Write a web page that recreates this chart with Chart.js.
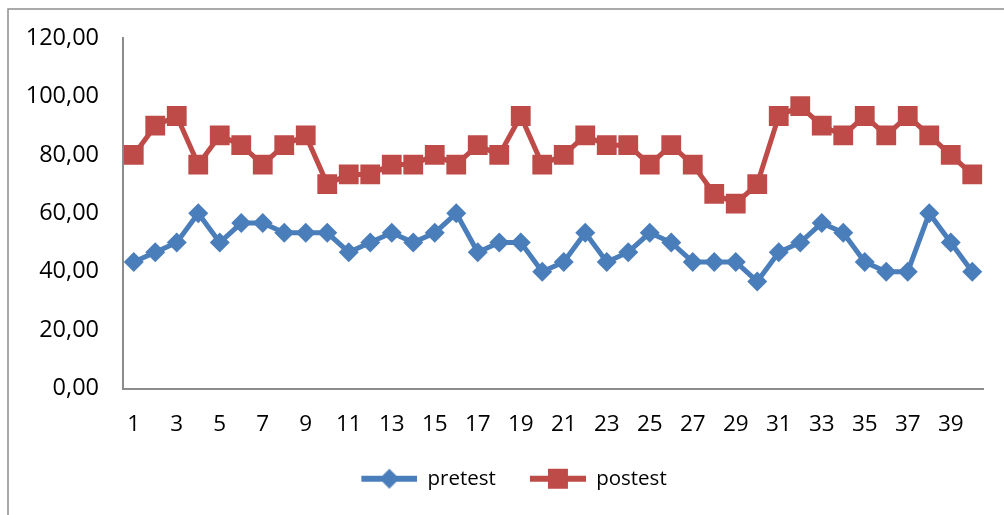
<!DOCTYPE html>
<html>
<head>
<meta charset="utf-8">
<script src="https://cdn.jsdelivr.net/npm/chart.js@4"></script>
<style>
  body { margin: 0; background: #fff; }
  canvas { display: block; }
</style>
</head>
<body>
<canvas id="chart" width="1004" height="515"></canvas>
<script>
// data
let categories = [];
for (let i = 1; i <= 40; i++) categories.push(String(i));

let pretest = [43.33, 46.67, 50, 60, 50, 56.67, 56.67, 53.33, 53.33, 53.33,
               46.67, 50, 53.33, 50, 53.33, 60, 46.67, 50, 50, 40,
               43.33, 53.33, 43.33, 46.67, 53.33, 50, 43.33, 43.33, 43.33, 36.67,
               46.67, 50, 56.67, 53.33, 43.33, 40, 40, 60, 50, 40];

let postest = [80, 90, 93.33, 76.67, 86.67, 83.33, 76.67, 83.33, 86.67, 70,
               73.33, 73.33, 76.67, 76.67, 80, 76.67, 83.33, 80, 93.33, 76.67,
               80, 86.67, 83.33, 83.33, 76.67, 83.33, 76.67, 66.67, 63.33, 70,
               93.33, 96.67, 90, 86.67, 93.33, 86.67, 93.33, 86.67, 80, 73.33];

let yTicks = [0, 20, 40, 60, 80, 100, 120];

let blue = "#4a7ebb";
let red = "#be4b48";
let axisGray = "#8c8c8c";
let fontName = "'Open Sans', sans-serif";

//legend symbol: a line with the marker in the middle
function legendIcon(color, shape){
    let c = document.createElement("canvas");
    c.width = 80;
    c.height = 24;
    let g = c.getContext("2d");
    g.strokeStyle = color;
    g.lineWidth = 6;
    g.beginPath();
    g.moveTo(24, 12);
    g.lineTo(80, 12);
    g.stroke();
    g.fillStyle = color;
    g.beginPath();
    if (shape == "diamond"){
        g.moveTo(52, 2);
        g.lineTo(62, 12);
        g.lineTo(52, 22);
        g.lineTo(42, 12);
    } else {
        g.rect(42, 2, 20, 20);
    }
    g.fill();
    return c;
}

//outer chart frame (only top and left edges are inside the picture)
let framePlugin = {
    id: "frame",
    beforeDraw(chart){
        let ctx = chart.ctx;
        ctx.save();
        ctx.strokeStyle = "#8e8e8e";
        ctx.lineWidth = 1.5;
        ctx.beginPath();
        ctx.moveTo(8, 520);
        ctx.lineTo(8, 9);
        ctx.lineTo(1010, 9);
        ctx.stroke();
        ctx.restore();
    }
};

let chart = new Chart(document.getElementById("chart").getContext("2d"), {
    type: "line",
    data: {
        labels: categories,
        datasets: [{
            label: "pretest",
            data: pretest,
            borderColor: blue,
            backgroundColor: blue,
            borderWidth: 5,
            pointStyle: "rectRot",
            pointRadius: 10,
            pointHoverRadius: 10,
            pointBorderWidth: 0,
            tension: 0
        }, {
            label: "postest",
            data: postest,
            borderColor: red,
            backgroundColor: red,
            borderWidth: 5,
            pointStyle: "rect",
            pointRadius: 14,
            pointHoverRadius: 14,
            pointBorderWidth: 0,
            tension: 0
        }]
    },
    options: {
        responsive: false,
        animation: false,
        layout: {
            padding: {left: 21, right: 21, top: 38, bottom: 16}
        },
        plugins: {
            tooltip: {enabled: false},
            legend: {
                position: "bottom",
                labels: {
                    usePointStyle: true,
                    pointStyleWidth: 80,
                    padding: 10,
                    color: "#000",
                    font: {family: fontName, size: 20.5},
                    generateLabels(ch){
                        return ch.data.datasets.map((ds, i) => ({
                            text: ds.label,
                            pointStyle: legendIcon(ds.borderColor, i == 0 ? "diamond" : "square"),
                            fillStyle: ds.borderColor,
                            strokeStyle: ds.borderColor,
                            lineWidth: 0,
                            fontColor: "#000",
                            datasetIndex: i
                        }));
                    }
                }
            }
        },
        scales: {
            x: {
                offset: true,
                grid: {display: false, drawTicks: false, offset: true},
                border: {display: true, color: axisGray, width: 2},
                afterFit(scale){ scale.height = 70; },
                ticks: {
                    autoSkip: false,
                    maxRotation: 0,
                    padding: 23,
                    color: "#000",
                    font: {family: fontName, size: 22.5},
                    callback(v, i){ return i % 2 == 0 ? categories[i] : ""; }
                }
            },
            y: {
                min: yTicks[0],
                max: yTicks[yTicks.length - 1],
                grid: {display: false, drawTicks: false},
                border: {display: true, color: axisGray, width: 2},
                afterFit(scale){ scale.width = 102; },
                afterBuildTicks(scale){ scale.ticks = yTicks.map(v => ({value: v})); },
                ticks: {
                    padding: 24,
                    color: "#000",
                    font: {family: fontName, size: 23.5},
                    callback(v){ return v.toFixed(2).replace(".", ","); }
                }
            }
        }
    },
    plugins: [framePlugin]
});
</script>
</body>
</html>
